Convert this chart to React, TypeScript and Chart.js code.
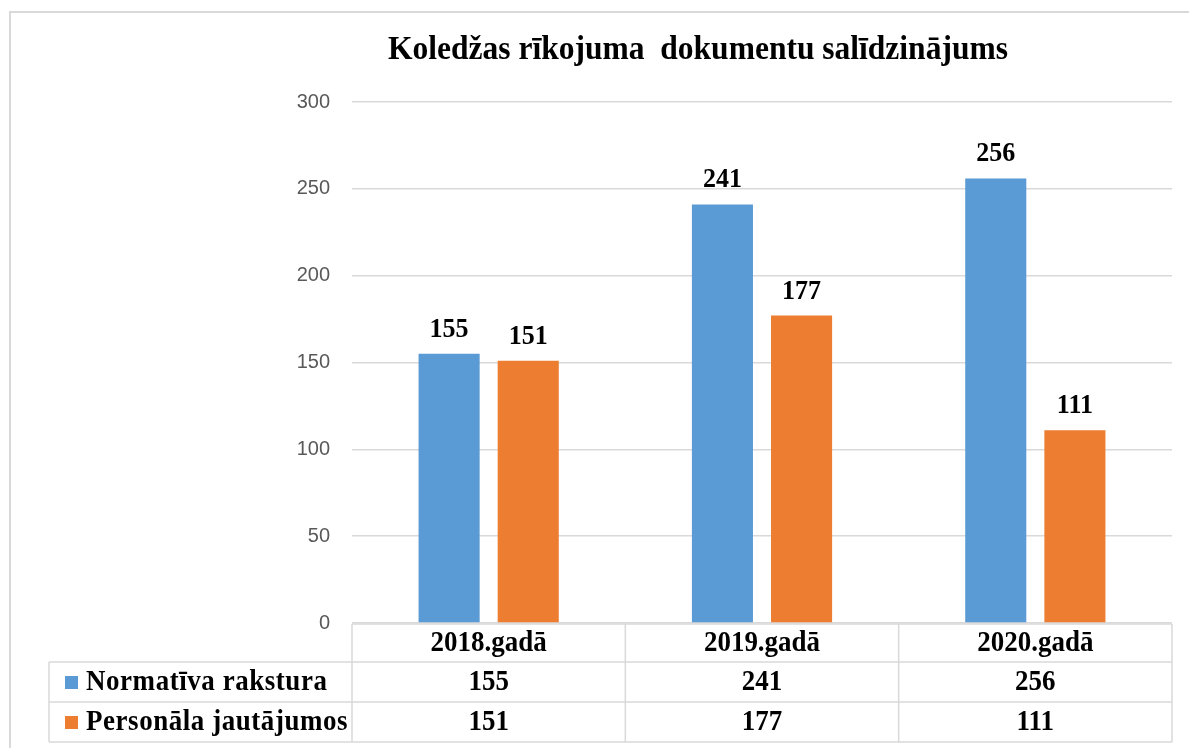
import React, { useEffect, useRef } from "react";
import { Chart, registerables } from "chart.js";

Chart.register(...registerables);

const title = "Koledžas rīkojuma  dokumentu salīdzinājums";
const categories = ["2018.gadā", "2019.gadā", "2020.gadā"];
const seriesNames = ["Normatīva rakstura", "Personāla jautājumos"];
const normativa = [155, 241, 256];
const personala = [151, 177, 111];
const yTicks = [0, 50, 100, 150, 200, 250, 300];

const BLUE = "#5b9bd5";
const ORANGE = "#ed7d31";
const GRID = "#d9d9d9";
const SERIF = "'Liberation Serif', 'Times New Roman', serif";

function textScaled(ctx: CanvasRenderingContext2D, s: string, x: number, y: number, sx: number) {
  ctx.save();
  ctx.translate(x, y);
  ctx.scale(sx, 1);
  ctx.fillText(s, 0, 0);
  ctx.restore();
}

const overlay = {
  id: "overlay",
  afterDraw(chart: any) {
    const ctx = chart.ctx as CanvasRenderingContext2D;
    const x = chart.scales.x;
    const area = chart.chartArea;
    ctx.save();

    // outer border
    ctx.strokeStyle = GRID;
    ctx.lineWidth = 2;
    ctx.beginPath();
    ctx.moveTo(10, 760);
    ctx.lineTo(10, 12);
    ctx.lineTo(1200, 12);
    ctx.stroke();

    // title
    ctx.fillStyle = "#000";
    ctx.font = `bold 33px ${SERIF}`;
    ctx.textAlign = "center";
    ctx.textBaseline = "middle";
    textScaled(ctx, title, 698, 50, 0.955);

    // data labels
    ctx.font = `bold 28px ${SERIF}`;
    ctx.textBaseline = "alphabetic";
    chart.data.datasets.forEach((ds: any, di: number) => {
      const meta = chart.getDatasetMeta(di);
      meta.data.forEach((bar: any, i: number) => {
        textScaled(ctx, String(ds.data[i]), bar.x, bar.y - 17, 0.93);
      });
    });

    // data table
    const half = (x.getPixelForValue(1) - x.getPixelForValue(0)) / 2;
    const left = area.left;
    const right = area.right;
    const tableLeft = 49;
    const rowTop = area.bottom + 1;
    const rowH = [38, 40, 40];
    const ys = [rowTop, rowTop + rowH[0], rowTop + rowH[0] + rowH[1], rowTop + rowH[0] + rowH[1] + rowH[2]];

    ctx.strokeStyle = GRID;
    ctx.lineWidth = 1.5;
    ctx.beginPath();
    ctx.moveTo(left, ys[0]);
    ctx.lineTo(right, ys[0]);
    for (let r = 1; r < 4; r++) {
      ctx.moveTo(tableLeft, ys[r]);
      ctx.lineTo(right, ys[r]);
    }
    ctx.moveTo(tableLeft, ys[1]);
    ctx.lineTo(tableLeft, ys[3]);
    categories.forEach((_, i) => {
      const cx = x.getPixelForValue(i);
      ctx.moveTo(cx - half, ys[0]);
      ctx.lineTo(cx - half, ys[3]);
      if (i === categories.length - 1) {
        ctx.moveTo(cx + half, ys[0]);
        ctx.lineTo(cx + half, ys[3]);
      }
    });
    ctx.stroke();

    ctx.fillStyle = "#000";
    ctx.font = `bold 29px ${SERIF}`;
    ctx.textAlign = "center";
    ctx.textBaseline = "middle";
    categories.forEach((c, i) => {
      const cx = x.getPixelForValue(i);
      textScaled(ctx, c, cx, (ys[0] + ys[1]) / 2 + 1, 0.93);
    });
    const rows = [normativa, personala];
    const colors = [BLUE, ORANGE];
    rows.forEach((vals, r) => {
      const cy = (ys[r + 1] + ys[r + 2]) / 2 + 1;
      vals.forEach((v, i) => {
        textScaled(ctx, String(v), x.getPixelForValue(i), cy, 0.93);
      });
      ctx.fillStyle = colors[r];
      ctx.fillRect(65, cy - 7, 13, 13);
      ctx.fillStyle = "#000";
      ctx.textAlign = "left";
      (ctx as any).letterSpacing = "0.6px";
      textScaled(ctx, seriesNames[r], 86, cy, 0.93);
      (ctx as any).letterSpacing = "0px";
      ctx.textAlign = "center";
    });

    ctx.restore();
  },
};

export default function App() {
  const ref = useRef<HTMLCanvasElement>(null);
  useEffect(() => {
    document.body.style.margin = "0";
    const chart = new Chart(ref.current!, {
      type: "bar",
      data: {
        labels: categories,
        datasets: [
          { label: seriesNames[0], data: normativa, backgroundColor: BLUE, categoryPercentage: 0.579, barPercentage: 0.772 },
          { label: seriesNames[1], data: personala, backgroundColor: ORANGE, categoryPercentage: 0.579, barPercentage: 0.772 },
        ],
      },
      options: {
        animation: false,
        responsive: false,
        layout: { padding: { left: 0, right: 17, top: 102, bottom: 125 } },
        plugins: { legend: { display: false }, title: { display: false }, tooltip: { enabled: false } },
        scales: {
          x: { display: false },
          y: {
            min: 0,
            max: 300,
            afterBuildTicks: (s: any) => {
              s.ticks = yTicks.map((v) => ({ value: v }));
            },
            afterFit: (s: any) => {
              s.width = 352;
            },
            border: { display: false },
            grid: { color: GRID, lineWidth: 1.5, drawTicks: false },
            ticks: {
              padding: 22,
              color: "#595959",
              font: { family: "'Liberation Sans', Arial, sans-serif", size: 20 },
            },
          },
        },
      },
      plugins: [overlay],
    });
    return () => chart.destroy();
  }, []);
  return <canvas ref={ref} width={1189} height={748} style={{ display: "block" }} />;
}
